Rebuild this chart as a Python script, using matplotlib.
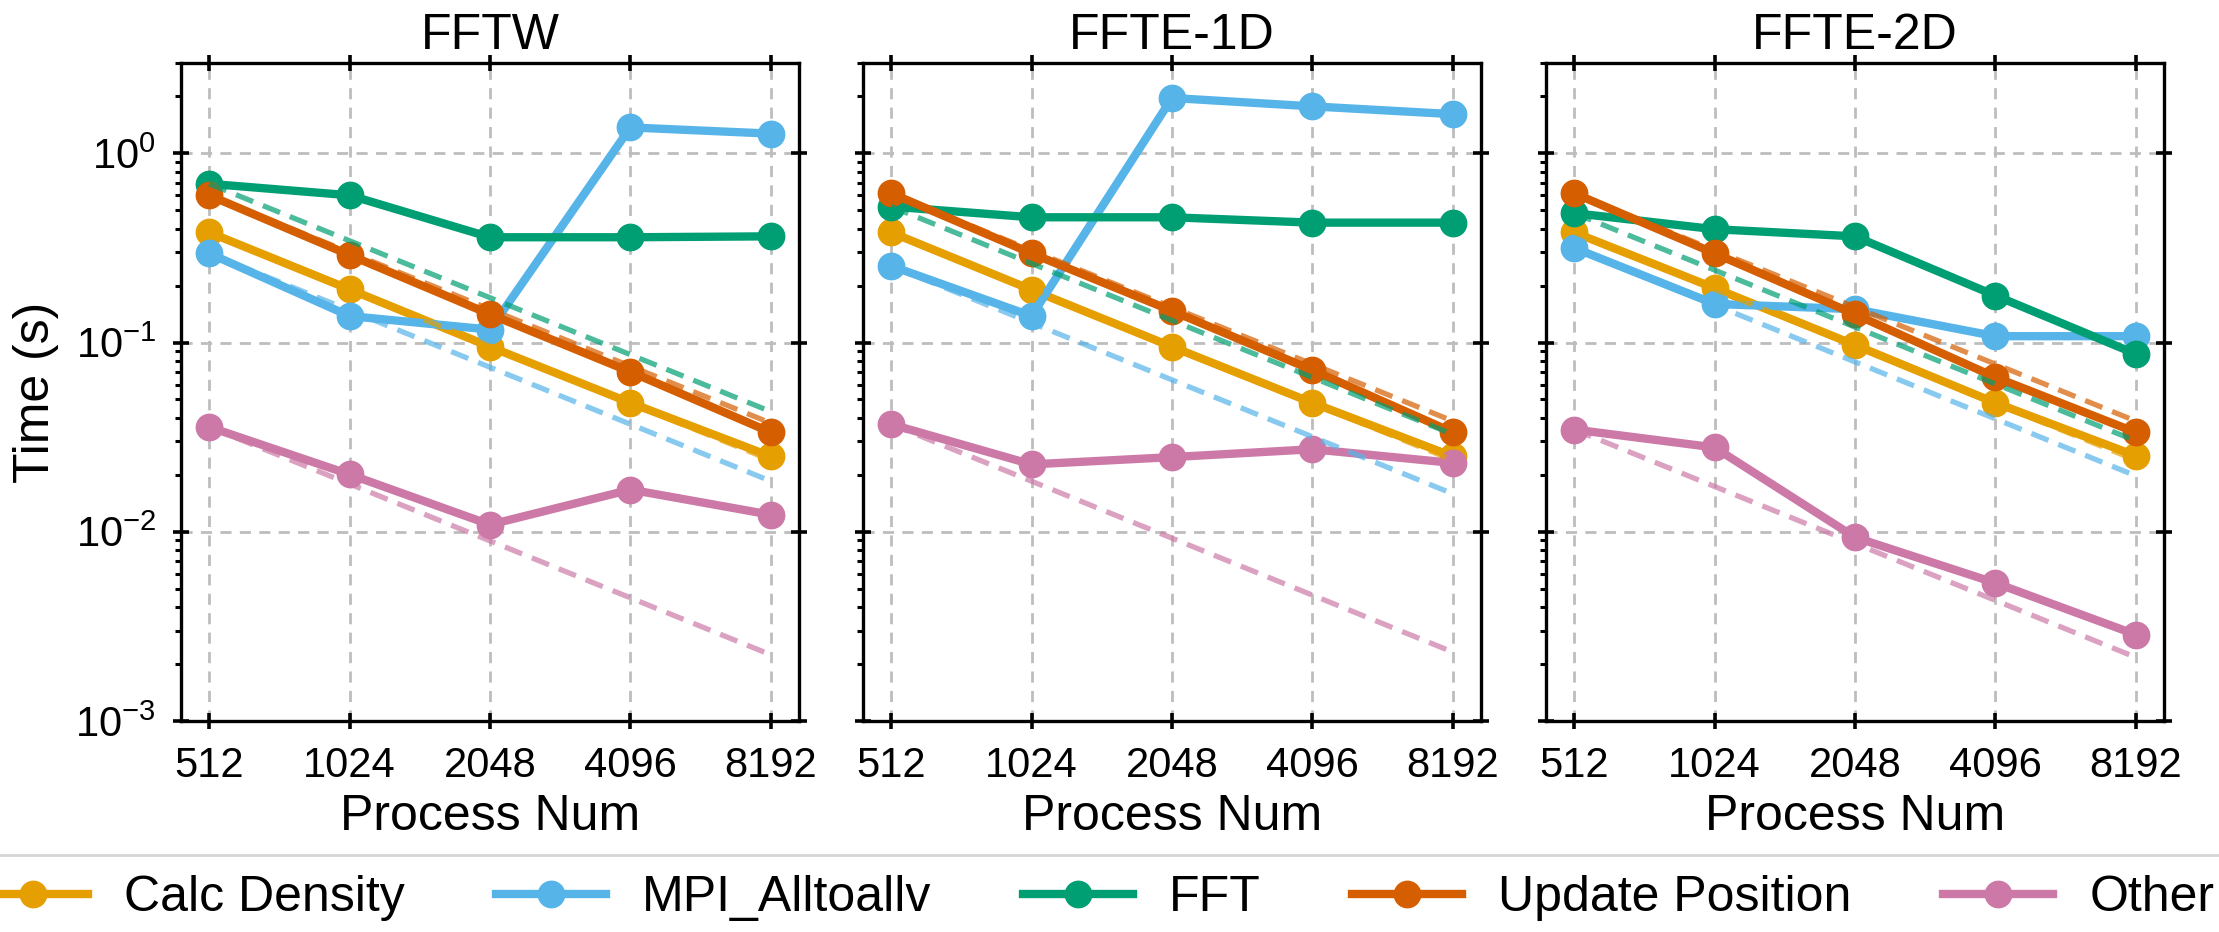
import numpy as np
import matplotlib
matplotlib.use("Agg")
import matplotlib.pyplot as plt
from matplotlib.ticker import FixedLocator, FixedFormatter, NullLocator, LogLocator

plt.rcParams['font.family'] = ['Liberation Sans', 'DejaVu Sans']
plt.rcParams['mathtext.fontset'] = 'custom'
plt.rcParams['mathtext.rm'] = 'Liberation Sans'
plt.rcParams['mathtext.it'] = 'Liberation Sans:italic'
plt.rcParams['mathtext.bf'] = 'Liberation Sans:bold'

procs = [512, 1024, 2048, 4096, 8192]
proc_labels = ["512", "1024", "2048", "4096", "8192"]
panels = ["FFTW", "FFTE-1D", "FFTE-2D"]
series = ["Calc Density", "MPI_Alltoallv", "FFT", "Update Position", "Other"]
colors = ["#E69F00", "#56B4E9", "#009E73", "#D55E00", "#CC79A7"]

# FFTW
fftw_calc = [0.382, 0.191, 0.095, 0.048, 0.025]
fftw_mpi = [0.296, 0.138, 0.117, 1.37, 1.27]
fftw_fft = [0.69, 0.60, 0.36, 0.36, 0.364]
fftw_update = [0.60, 0.29, 0.141, 0.070, 0.0335]
fftw_other = [0.0358, 0.0201, 0.0109, 0.0167, 0.0123]

# FFTE-1D
ffte1_calc = [0.382, 0.19, 0.095, 0.048, 0.025]
ffte1_mpi = [0.254, 0.138, 1.96, 1.77, 1.61]
ffte1_fft = [0.523, 0.459, 0.459, 0.43, 0.43]
ffte1_update = [0.615, 0.296, 0.147, 0.0715, 0.0335]
ffte1_other = [0.037, 0.0227, 0.0248, 0.0273, 0.0231]

# FFTE-2D
ffte2_calc = [0.382, 0.194, 0.097, 0.048, 0.0252]
ffte2_mpi = [0.316, 0.16, 0.15, 0.108, 0.108]
ffte2_fft = [0.483, 0.397, 0.364, 0.177, 0.087]
ffte2_update = [0.615, 0.296, 0.141, 0.0655, 0.0335]
ffte2_other = [0.0347, 0.0279, 0.00935, 0.00536, 0.00286]

data = {
    "FFTW": [fftw_calc, fftw_mpi, fftw_fft, fftw_update, fftw_other],
    "FFTE-1D": [ffte1_calc, ffte1_mpi, ffte1_fft, ffte1_update, ffte1_other],
    "FFTE-2D": [ffte2_calc, ffte2_mpi, ffte2_fft, ffte2_update, ffte2_other],
}

W, H, DPI = 2219, 932, 200
fig = plt.figure(figsize=(W / DPI, H / DPI), dpi=DPI)

lefts = [181, 863, 1546]
width = 618
top_px, bot_px = 63, 721

axes = []
for i, name in enumerate(panels):
    ax = fig.add_axes([lefts[i] / W, 1 - bot_px / H, width / W, (bot_px - top_px) / H])
    axes.append(ax)
    ax.set_xscale('log', base=2)
    ax.set_yscale('log')
    p = np.array(procs, dtype=float)
    handles = []
    for s, col, vals in zip(series, colors, data[name]):
        h, = ax.plot(p, vals, '-o', color=col, lw=3, ms=9, label=s, zorder=3)
        handles.append(h)
    for s, col, vals in zip(series, colors, data[name]):
        ideal = vals[0] * p[0] / p
        ax.plot(p, ideal, '--', color=col, lw=1.9, alpha=0.7, zorder=4,
                dashes=(3.5, 2.0))
    ax.set_xlim(512 / 2 ** 0.2, 8192 * 2 ** 0.2)
    ax.set_ylim(1e-3, 3)
    ax.xaxis.set_major_locator(FixedLocator(procs))
    ax.xaxis.set_major_formatter(FixedFormatter(proc_labels))
    ax.xaxis.set_minor_locator(NullLocator())
    ax.yaxis.set_major_locator(LogLocator(base=10, numticks=10))
    ax.yaxis.set_minor_locator(LogLocator(base=10, subs=np.arange(2, 10) * 1.0, numticks=20))
    ax.grid(True, which='major', linestyle=(0, (4, 3)), color='#bdbdbd', lw=1.0, zorder=0)
    ax.tick_params(which='major', direction='inout', length=6, width=1.3,
                   top=True, right=True, labelsize=15, pad=6)
    ax.tick_params(which='minor', axis='y', direction='out', length=2.2, width=1.1,
                   left=True, right=False)
    for sp in ax.spines.values():
        sp.set_linewidth(1.2)
    ax.set_title(name, fontsize=18, pad=5)
    ax.set_xlabel("Process Num", fontsize=18, labelpad=3)
    if i == 0:
        ax.set_ylabel("Time (s)", fontsize=18, labelpad=6)
    else:
        ax.tick_params(axis='y', which='both', labelleft=False)

fig.legend(handles, series, loc='upper center', bbox_to_anchor=(0.494, 1 - 855 / H),
           ncol=5, fontsize=18, handlelength=2.2, handletextpad=0.72,
           columnspacing=1.83, frameon=True, borderaxespad=0.0)

fig.savefig("out.png", dpi=DPI)
